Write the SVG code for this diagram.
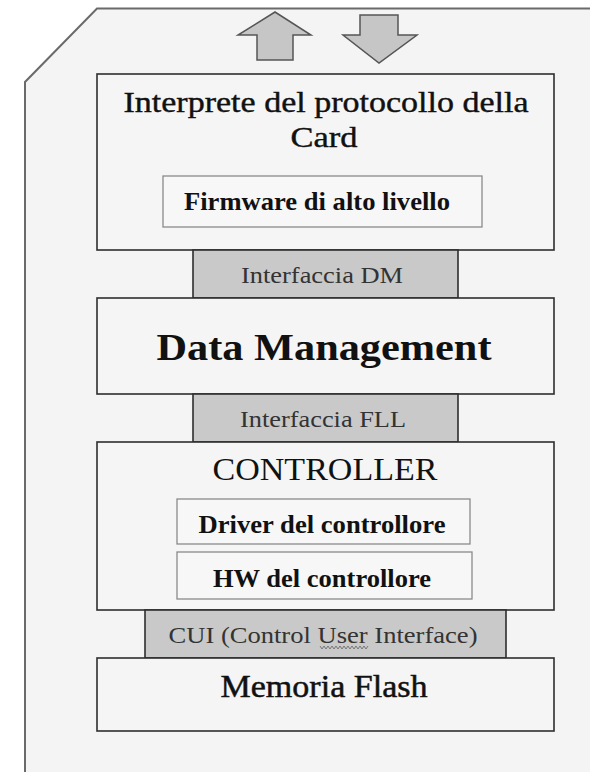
<svg xmlns="http://www.w3.org/2000/svg" width="590" height="772" viewBox="0 0 590 772">
  <style>
    .card { fill: #f4f4f4; stroke: none; }
    .card-edge { fill: none; stroke: #6a6a6a; stroke-width: 2; }
    .layer { fill: #f5f5f5; stroke: #2e2e2e; stroke-width: 1.6; }
    .iface { fill: #c9c9c9; stroke: #2e2e2e; stroke-width: 1.6; }
    .sub { fill: #f7f7f7; stroke: #8a8a8a; stroke-width: 1.3; }
    .arrow { fill: #c6c6c6; stroke: #555; stroke-width: 1.5; stroke-linejoin: miter; }
    text { font-family: "Liberation Serif", "Times New Roman", serif; text-anchor: middle; fill: #111; }
    .title { font-size: 29px; stroke: #111; stroke-width: 0.4; }
    .big { font-size: 38px; font-weight: bold; }
    .caps { font-size: 31px; }
    .bold { font-size: 26px; font-weight: bold; }
    .ilabel { font-size: 24px; fill: #333; }
    .flash { font-size: 32px; stroke: #111; stroke-width: 0.5; }
    .squiggle { fill: none; stroke: #777; stroke-width: 1; }
  </style>

  <!-- card body with clipped corner -->
  <g id="card">
    <path class="card" d="M97 8.5 L590 8.5 L590 772 L25 772 L25 82 Z"/>
    <path class="card-edge" d="M590 8.5 L97 8.5 L25 82 L25 772"/>
  </g>

  <!-- host I/O arrows -->
  <g id="connectors">
    <polygon class="arrow" points="275,12 311,35 293,35 293,60 257,60 257,35 238,35"/>
    <polygon class="arrow" points="360,15 398,15 398,35 417,35 379,63 343,35 360,35"/>
  </g>

  <g id="protocol-interpreter">
    <rect class="layer" x="97" y="74" width="457" height="176"/>
    <text class="title" x="326" y="112" textLength="405" lengthAdjust="spacingAndGlyphs">Interprete del protocollo della</text>
    <text class="title" x="324" y="147" textLength="67" lengthAdjust="spacingAndGlyphs">Card</text>
  </g>
  <g id="firmware">
    <rect class="sub" x="163" y="176" width="319" height="51"/>
    <text class="bold" x="317" y="210" textLength="266" lengthAdjust="spacingAndGlyphs">Firmware di alto livello</text>
  </g>

  <g id="iface-dm">
    <rect class="iface" x="193" y="250" width="265" height="48"/>
    <text class="ilabel" x="322" y="283" textLength="162" lengthAdjust="spacingAndGlyphs">Interfaccia DM</text>
  </g>

  <g id="data-management">
    <rect class="layer" x="97" y="298" width="457" height="96"/>
    <text class="big" x="324" y="360" textLength="335" lengthAdjust="spacingAndGlyphs">Data Management</text>
  </g>

  <g id="iface-fll">
    <rect class="iface" x="193" y="394" width="265" height="48"/>
    <text class="ilabel" x="323" y="427" textLength="166" lengthAdjust="spacingAndGlyphs">Interfaccia FLL</text>
  </g>

  <g id="controller">
    <rect class="layer" x="97" y="442" width="457" height="168"/>
    <text class="caps" x="325" y="480" textLength="225" lengthAdjust="spacingAndGlyphs">CONTROLLER</text>
  </g>
  <g id="controller-driver">
    <rect class="sub" x="177" y="499" width="293" height="45"/>
    <text class="bold" x="322" y="533" textLength="247" lengthAdjust="spacingAndGlyphs">Driver del controllore</text>
  </g>
  <g id="controller-hw">
    <rect class="sub" x="177" y="552" width="295" height="47"/>
    <text class="bold" x="322" y="587" textLength="218" lengthAdjust="spacingAndGlyphs">HW del controllore</text>
  </g>

  <g id="iface-cui">
    <rect class="iface" x="145" y="610" width="361" height="48"/>
    <text class="ilabel" x="323" y="643" textLength="309" lengthAdjust="spacingAndGlyphs">CUI (Control User Interface)</text>
    <path class="squiggle" d="M320 646 l2 3 l2 -3 l2 3 l2 -3 l2 3 l2 -3 l2 3 l2 -3 l2 3 l2 -3 l2 3 l2 -3 l2 3 l2 -3 l2 3 l2 -3 l2 3 l2 -3 l2 3 l2 -3 l2 3 l2 -3 l2 3 l2 -3"/>
  </g>

  <g id="flash-memory">
    <rect class="layer" x="97" y="658" width="457" height="73"/>
    <text class="flash" x="324" y="697" textLength="207" lengthAdjust="spacingAndGlyphs">Memoria Flash</text>
  </g>
</svg>
